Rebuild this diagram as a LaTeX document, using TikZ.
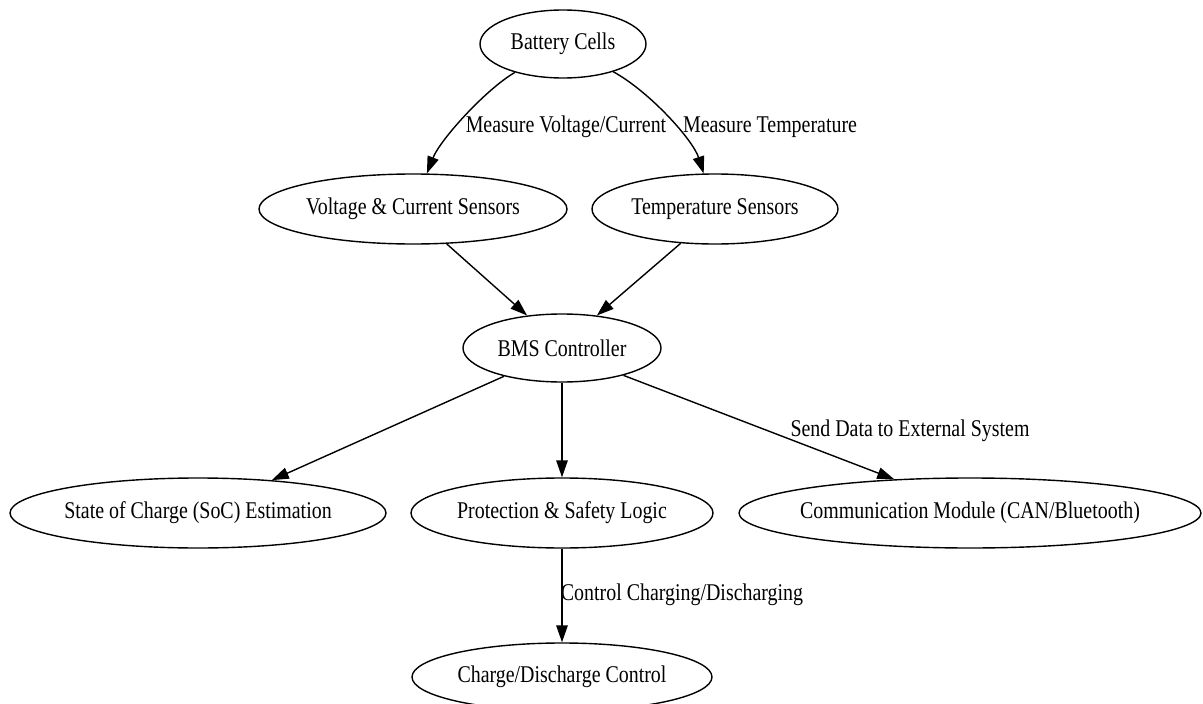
\documentclass[tikz,border=0pt]{standalone}
\usepackage{fontspec}
\setmainfont{Liberation Serif}[FakeStretch=0.83]
\usetikzlibrary{shapes.geometric,arrows.meta}
\newcommand{\zb}[1]{\makebox[0pt][c]{#1}}
\tikzset{
  box/.style={draw, ellipse, inner sep=0pt, line width=1.4pt, font=\fontsize{24}{26}\selectfont},
  lbl/.style={inner sep=0pt, font=\fontsize{24}{26}\selectfont},
  conn/.style={line width=1.4pt, -{Triangle[length=17pt,width=11.5pt]}}
}
\begin{document}
\begin{tikzpicture}[x=1pt,y=-1pt]
\useasboundingbox (0,0) rectangle (1203,704);
\node[box, minimum width=166pt, minimum height=68pt] (bat) at (563,44) {\zb{Battery Cells}};
\node[box, minimum width=308pt, minimum height=70pt] (volt) at (413,209) {\zb{Voltage \& Current Sensors}};
\node[box, minimum width=246pt, minimum height=70pt] (temp) at (715,209) {\zb{Temperature Sensors}};
\node[box, minimum width=198pt, minimum height=68pt] (bms) at (562,348) {\zb{BMS Controller}};
\node[box, minimum width=376pt, minimum height=70pt] (soc) at (198,513) {\zb{State of Charge (SoC) Estimation}};
\node[box, minimum width=302pt, minimum height=70pt] (prot) at (562,513) {\zb{Protection \& Safety Logic}};
\node[box, minimum width=462pt, minimum height=70pt] (comm) at (970,513) {\zb{Communication Module (CAN/Bluetooth)}};
\node[box, minimum width=300pt, minimum height=68pt] (chg) at (562,677) {\zb{Charge/Discharge Control}};

\draw[conn] (bat) .. controls (485,90) and (440,140) .. (volt);
\draw[conn] (bat) .. controls (650,92) and (693,140) .. (temp);
\draw[conn] (volt.-46) -- (bms.137);
\draw[conn] (temp.-135) -- (bms.43);
\draw[conn] (bms.206) -- (soc.24);
\draw[conn] (bms.south) -- (prot.north);
\draw[conn] (bms.-24) -- (comm.156);
\draw[conn] (prot.south) -- (chg.north);

\node[lbl] (l1) at (566,127) {Measure Voltage/Current};
\node[lbl] (l2) at (770,127) {Measure Temperature};
\node[lbl] (l3) at (910,431) {Send Data to External System};
\node[lbl] (l4) at (682,595) {Control Charging/Discharging};
\end{tikzpicture}
\end{document}
